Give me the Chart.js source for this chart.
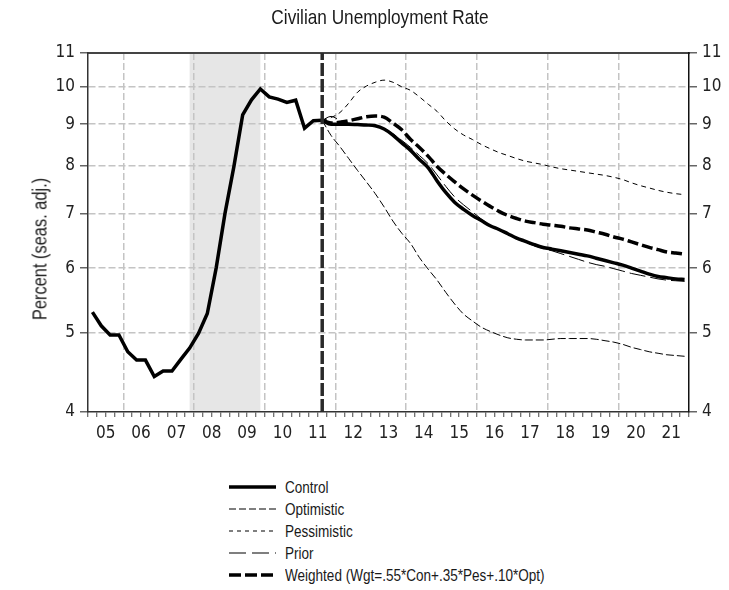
<!DOCTYPE html>
<html>
<head>
<meta charset="utf-8">
<script src="https://cdn.jsdelivr.net/npm/chart.js@4.4.1/dist/chart.umd.min.js"></script>
<style>
  body { margin: 0; background: #fff; }
  #wrap { position: relative; width: 729px; height: 590px; font-family: 'Liberation Sans', Arial, sans-serif; color: #1a1a1a; }
  #legend { position: absolute; left: 229px; top: 476px; }
  .row { height: 22px; display: flex; align-items: center; font-size: 16.5px; white-space: nowrap; }
  .row svg { margin-right: 9px; flex: none; }
  .row span { display: inline-block; transform: scaleX(0.82); transform-origin: left center; }
  #title { position: absolute; left: 380px; top: 17px; font-size: 21px; white-space: nowrap;
    transform: translate(-50%, -50%) scaleX(0.82); }
  #ytitle { position: absolute; left: 40px; top: 249px; font-size: 20px; white-space: nowrap;
    transform: translate(-50%, -50%) rotate(-90deg) scaleX(0.82); }
</style>
</head>
<body>
<div id="wrap">
  <canvas id="chart" width="729" height="460" style="width:729px;height:460px"></canvas>
  <div id="title">Civilian Unemployment Rate</div>
  <div id="ytitle">Percent (seas. adj.)</div>
  <div id="legend"></div>
</div>
<script>
// quarterly data, history then the forecast runs
const histFirst = '2005Q1';
const histLast = '2011Q3';
const fcFirst = '2011Q3';
const fcLast = '2021Q4';

const history = [5.30, 5.10, 4.97, 4.97,
  4.74, 4.63, 4.63, 4.42,
  4.49, 4.49, 4.64, 4.79,
  4.99, 5.28, 6.00, 7.00,
  7.98, 9.24, 9.64, 9.94,
  9.72, 9.66, 9.57, 9.63,
  8.90, 9.09, 9.10];

const control = [9.10, 9.00, 9.00, 9.00, 8.99, 8.98,
  8.96, 8.88, 8.73, 8.54,
  8.36, 8.15, 7.96, 7.67,
  7.42, 7.22, 7.08, 6.96,
  6.86, 6.76, 6.69, 6.61,
  6.53, 6.47, 6.41, 6.36,
  6.33, 6.30, 6.27, 6.24,
  6.21, 6.17, 6.13, 6.09,
  6.05, 6.00, 5.95, 5.90,
  5.86, 5.84, 5.82, 5.81];

const optimistic = [9.10, 8.72, 8.45, 8.17, 7.90, 7.65,
  7.40, 7.13, 6.85, 6.62,
  6.43, 6.18, 5.98, 5.80,
  5.60, 5.42, 5.27, 5.17,
  5.08, 5.02, 4.97, 4.93,
  4.91, 4.90, 4.90, 4.90,
  4.91, 4.92, 4.92, 4.92,
  4.92, 4.91, 4.89, 4.87,
  4.84, 4.80, 4.77, 4.74,
  4.72, 4.70, 4.69, 4.68];

const pessimistic = [9.10, 9.17, 9.30, 9.55, 9.85, 10.02,
  10.13, 10.19, 10.13, 10.00,
  9.90, 9.72, 9.52, 9.33,
  9.08, 8.88, 8.73, 8.62,
  8.50, 8.40, 8.31, 8.24,
  8.17, 8.11, 8.07, 8.03,
  7.98, 7.94, 7.91, 7.88,
  7.85, 7.82, 7.79, 7.75,
  7.70, 7.63, 7.57, 7.52,
  7.47, 7.43, 7.40, 7.38];

const prior = [9.10, 9.20, 9.10, 9.03, 9.00, 8.98,
  8.95, 8.89, 8.76, 8.60,
  8.43, 8.24, 8.05, 7.80,
  7.55, 7.33, 7.17, 7.03,
  6.89, 6.77, 6.68, 6.60,
  6.52, 6.45, 6.39, 6.34,
  6.30, 6.25, 6.20, 6.15,
  6.10, 6.06, 6.03, 5.99,
  5.95, 5.91, 5.88, 5.85,
  5.82, 5.80, 5.79, 5.78];

const weighted = [9.10, 9.03, 9.05, 9.09, 9.14, 9.19,
  9.21, 9.18, 9.03, 8.86,
  8.62, 8.43, 8.22, 7.99,
  7.81, 7.65, 7.50, 7.37,
  7.25, 7.14, 7.04, 6.96,
  6.90, 6.85, 6.82, 6.79,
  6.77, 6.75, 6.72, 6.70,
  6.68, 6.64, 6.60, 6.55,
  6.51, 6.46, 6.41, 6.36,
  6.32, 6.28, 6.26, 6.24];

const yTicks = [4, 5, 6, 7, 8, 9, 10, 11];
const xRange = [2005, 2022];
const recession = [2007.875, 2009.875];
const forecastMark = 2011.625;

// '2011Q3' -> 2011.625 (middle of the quarter)
function qPos(q) {
  return +q.slice(0, 4) + (+q.slice(5) - 0.5) / 4;
}
function quarters(a, b) {
  const out = [];
  for (let v = qPos(a); v <= qPos(b) + 1e-9; v += 0.25) out.push(v);
  return out;
}
const histX = quarters(histFirst, histLast);
const fcX = quarters(fcFirst, fcLast);
const pts = (xs, ys) => ys.map((y, i) => ({ x: xs[i], y: y }));

const FONT = "'Liberation Sans Narrow', 'Arial Narrow', 'DejaVu Sans Condensed', sans-serif";
Chart.defaults.font.family = FONT;
Chart.defaults.color = '#222';

const series = [
  { label: 'Control', data: control, width: 3.5, dash: [], legendDash: '' },
  { label: 'Optimistic', data: optimistic, width: 1, dash: [8, 3], legendDash: '7 3' },
  { label: 'Pessimistic', data: pessimistic, width: 1, dash: [5, 4], legendDash: '4 4' },
  { label: 'Prior', data: prior, width: 1, dash: [16, 5], legendDash: '17 6' },
  { label: 'Weighted (Wgt=.55*Con+.35*Pes+.10*Opt)', data: weighted, width: 3.5, dash: [11, 4], legendDash: '12 4' }
];

const datasets = [{
  label: 'forecast start',
  data: [{ x: forecastMark, y: yTicks[0] }, { x: forecastMark, y: yTicks[yTicks.length - 1] }],
  borderColor: '#2a2a2a', borderWidth: 3.5, borderDash: [13, 3], pointRadius: 0
}];
// thick lines on top
[0, 4, 3, 1, 2].forEach(i => {
  const s = series[i];
  datasets.push({
    label: s.label, data: pts(fcX, s.data),
    borderColor: '#000', borderWidth: s.width, borderDash: s.dash,
    pointRadius: 0, cubicInterpolationMode: 'monotone', borderCapStyle: 'butt'
  });
});
datasets.splice(2, 0, {
  label: 'history', data: pts(histX, history),
  borderColor: '#000', borderWidth: 3.5, pointRadius: 0, tension: 0
});

// shaded recession, drawn under the grid
const backdrop = {
  id: 'backdrop',
  beforeDraw(chart) {
    const { ctx, chartArea, scales } = chart;
    ctx.save();
    ctx.fillStyle = '#fff';
    ctx.fillRect(0, 0, chart.width, chart.height);
    const x0 = scales.x.getPixelForValue(recession[0]);
    const x1 = scales.x.getPixelForValue(recession[1]);
    ctx.fillStyle = '#e6e6e6';
    ctx.fillRect(x0, chartArea.top, x1 - x0, chartArea.bottom - chartArea.top);
    ctx.restore();
  }
};

const yAxis = (pos) => ({
  type: 'logarithmic', position: pos, min: yTicks[0], max: yTicks[yTicks.length - 1],
  afterBuildTicks: s => { s.ticks = yTicks.map(v => ({ value: v })); },
  afterFit: s => { s.width = pos === 'left' ? 88 : 40; },
  ticks: { callback: v => String(v), font: { size: 17 }, padding: 5, color: '#222' },
  grid: {
    drawOnChartArea: pos === 'left',
    color: c => (c.tick && c.tick.value > 4 && c.tick.value < 11) ? '#c4c4c4' : 'rgba(0,0,0,0)',
    lineWidth: 1.5, tickLength: 8, tickColor: '#666', tickWidth: 1.5
  },
  border: { color: pos === 'left' ? '#333' : '#111', width: 1.5, dash: [7, 3] }
});

new Chart(document.getElementById('chart'), {
  type: 'line',
  data: { datasets: datasets },
  plugins: [backdrop],
  options: {
    responsive: false,
    animation: false,
    layout: { padding: 0 },
    plugins: {
      legend: { display: false },
      tooltip: { enabled: false }
    },
    scales: {
      x: {
        type: 'linear', position: 'bottom', min: xRange[0], max: xRange[1],
        afterBuildTicks: s => {
          const t = [];
          for (let v = xRange[0]; v <= xRange[1]; v += 0.25) t.push({ value: v });
          s.ticks = t;
        },
        afterFit: s => { s.height = 48; },
        ticks: {
          autoSkip: false, maxRotation: 0, font: { size: 17 }, padding: 6, color: '#222',
          callback: v => (v % 1 === 0.5) ? String(Math.floor(v) % 100).padStart(2, '0') : ''
        },
        grid: {
          color: c => (c.tick && c.tick.value % 2 === 0 && c.tick.value > xRange[0] && c.tick.value < xRange[1]) ? '#c4c4c4' : 'rgba(0,0,0,0)',
          lineWidth: 1.5, tickLength: 5, tickColor: '#444', tickWidth: 1
        },
        border: { color: '#333', width: 1.5, dash: [7, 3] }
      },
      xTop: {
        type: 'linear', position: 'top', min: xRange[0], max: xRange[1],
        afterFit: s => { s.height = 53; },
        ticks: { display: false },
        grid: { display: false },
        border: { display: true, color: '#444', width: 2 }
      },
      y: yAxis('left'),
      y2: yAxis('right')
    }
  }
});

// legend under the plot
const legend = document.getElementById('legend');
series.forEach(s => {
  const row = document.createElement('div');
  row.className = 'row';
  row.innerHTML = '<svg width="47" height="22"><line x1="0" y1="11" x2="47" y2="11" stroke="#000" stroke-width="' +
    (s.width > 2 ? 3.5 : 1.2) + '"' + (s.legendDash ? ' stroke-dasharray="' + s.legendDash + '"' : '') + '/></svg>' +
    '<span>' + s.label + '</span>';
  legend.appendChild(row);
});
</script>
</body>
</html>
